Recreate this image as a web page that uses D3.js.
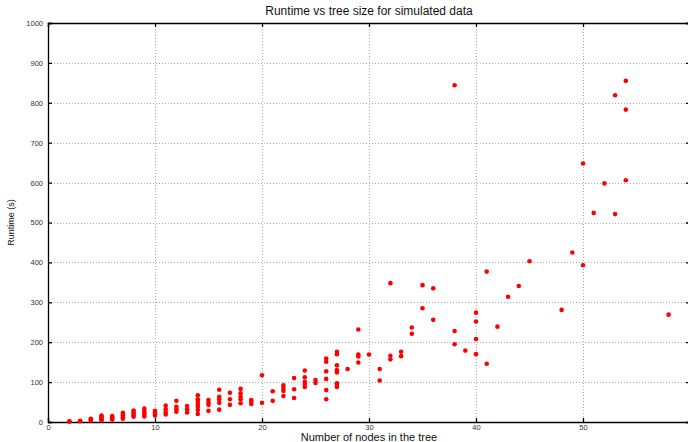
<!DOCTYPE html>
<html><head><meta charset="utf-8">
<script src="https://cdn.jsdelivr.net/npm/d3@7"></script>
<style>
body{margin:0;background:#fff;}
svg{display:block;font-family:"Liberation Sans",Arial,Helvetica,sans-serif;}
</style></head><body>
<svg id="c" width="688" height="442"></svg>
<script>
// nodes in tree -> list of runtimes (s)
const nodeCounts = [2,3,4,5,6,7,8,9,10,11,12,13,14,15,16,17,18,19,20,21,22,23,24,25,26,27,28,29,30,31,32,33,34,35,36,38,39,40,41,42,43,44,45,48,49,50,51,52,53,54,58];
const runtimes = [
  [1,2],[2,3],[4,6,8],[4,7,10,13,16],[6,9,12,15],[8,12,16,20,23],[13,17,21,25,29],[14,18,22,27,34],[16,20,24,28],
  [19,24,32,41],[26,32,38,53],[24,32,40],[20,30,38,44,51,57,67],[28,43,48,55],[31,48,57,63,81],[43,57,73],
  [47,57,63,72,83],[45,51,55],[48,117],[53,77],[65,78,85,92],[60,82,110],[88,95,101,112,129],[98,105],
  [57,80,108,127,151,159],[88,93,97,124,130,142,170,176],[133],[149,164,169,232],[169],[104,133],
  [157,166,348],[165,176],[221,237],[285,343],[256,335],[195,228,844],[179],[170,208,252,274],[146,377],
  [239],[314],[341],[403],[281],[425],[393,648],[524],[598],[521,819],[606,783,855],[269]
];
const xTicks = [0,10,20,30,40,50];
const yTicks = [0,100,200,300,400,500,600,700,800,900,1000];
const titleText = "Runtime vs tree size for simulated data";
const xLabel = "Number of nodes in the tree";
const yLabel = "Runtime (s)";

const points = [];
nodeCounts.forEach((n,i)=>runtimes[i].forEach(v=>points.push({n,v})));

const L=48, R=690, T=23, B=422;
const svg = d3.select("#c");
const x = d3.scaleLinear().domain([0,60]).range([L,R]);
const y = d3.scaleLinear().domain([0,1000]).range([B,T]);

// grid
const g = svg.append("g");
g.selectAll("line.gx").data(xTicks.filter(d=>d>0)).join("line")
  .attr("x1",d=>x(d)+0.5).attr("x2",d=>x(d)+0.5).attr("y1",T).attr("y2",B)
  .attr("stroke","#aaa").attr("stroke-width",1).attr("stroke-dasharray","1,2");
g.selectAll("line.gy").data(yTicks.filter(d=>d>0&&d<1000)).join("line")
  .attr("y1",d=>Math.round(y(d))+0.5).attr("y2",d=>Math.round(y(d))+0.5).attr("x1",L).attr("x2",R)
  .attr("stroke","#aaa").attr("stroke-width",1).attr("stroke-dasharray","1,2");

// axes
const fmt = d3.format("d");
const axB = d3.axisBottom(x).tickValues(xTicks).tickSize(-4).tickPadding(3).tickFormat(fmt);
const axL = d3.axisLeft(y).tickValues(yTicks).tickSize(-4).tickPadding(5).tickFormat(fmt);
const axT = d3.axisTop(x).tickValues(xTicks).tickSize(-4).tickFormat("");
const axR = d3.axisRight(y).tickValues(yTicks).tickSize(-4).tickFormat("");
function style(sel){
  sel.select(".domain").attr("stroke","#000").attr("stroke-width",1.3);
  sel.selectAll(".tick line").attr("stroke","#000").attr("stroke-width",1.3);
  sel.selectAll(".tick text").attr("fill","#333").attr("font-size","7.5px").attr("font-family","Liberation Sans,Arial,sans-serif");
}
svg.append("g").attr("transform",`translate(0,${B})`).call(axB).call(style);
svg.append("g").attr("transform",`translate(${L},0)`).call(axL).call(style);
svg.append("g").attr("transform",`translate(0,${T})`).call(axT).call(style);
svg.append("g").attr("transform",`translate(${R},0)`).call(axR).call(style);

// points
svg.append("g").selectAll("circle").data(points).join("circle")
  .attr("cx",d=>x(d.n)).attr("cy",d=>y(d.v)).attr("r",2.3).attr("fill","#ff0000");

// labels
svg.append("text").attr("x",(L+R)/2).attr("y",15).attr("text-anchor","middle")
  .attr("font-size","12px").attr("fill","#111").text(titleText);
svg.append("text").attr("x",(L+R)/2).attr("y",441).attr("text-anchor","middle")
  .attr("font-size","11px").attr("fill","#111").text(xLabel);
svg.append("text").attr("transform",`translate(14,${(T+B)/2}) rotate(-90)`).attr("text-anchor","middle")
  .attr("font-size","9px").attr("fill","#111").text(yLabel);
</script></body></html>
